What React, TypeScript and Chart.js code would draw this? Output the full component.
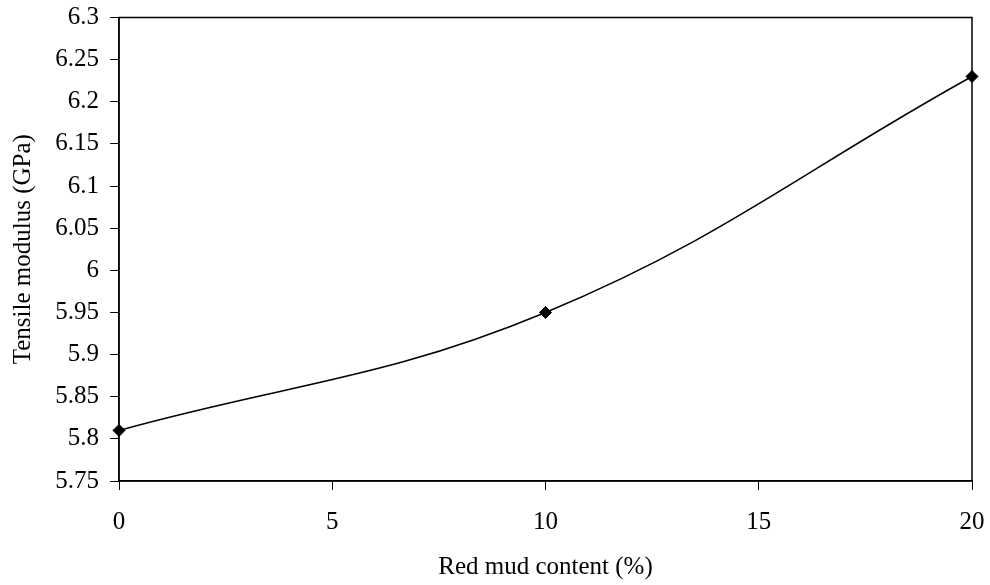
import React, { useEffect, useRef } from "react";
import { Chart, registerables } from "chart.js";

Chart.register(...registerables);

const redMudContent = [0, 10, 20];
const tensileModulus = [5.81, 5.95, 6.23];
const xTicks = [0, 5, 10, 15, 20];

const FONT = "'Liberation Serif', 'Times New Roman', serif";
const FS = 25;

const boxPlugin = {
  id: "plotBox",
  beforeDatasetsDraw(chart: any) {
    const { ctx, chartArea } = chart;
    ctx.save();
    ctx.strokeStyle = "#000";
    ctx.lineWidth = 1.5;
    ctx.strokeRect(chartArea.left, chartArea.top, chartArea.right - chartArea.left, chartArea.bottom - chartArea.top);
    ctx.restore();
  },
};

export default function App() {
  const ref = useRef<HTMLCanvasElement | null>(null);
  useEffect(() => {
    document.body.style.margin = "0";
    const canvas = ref.current!;
    const chart = new Chart(canvas, {
      type: "line",
      data: {
        datasets: [
          {
            data: redMudContent.map((x, i) => ({ x, y: tensileModulus[i] })),
            borderColor: "#000",
            backgroundColor: "#000",
            borderWidth: 1.5,
            tension: 0.4,
            clip: false,
            pointStyle: "rectRot",
            pointRadius: 6,
            pointBorderWidth: 1,
            pointBackgroundColor: "#000",
            pointBorderColor: "#000",
          },
        ],
      },
      options: {
        animation: false,
        responsive: false,
        maintainAspectRatio: false,
        layout: { padding: { top: 17.5, right: 18, left: 0, bottom: 0 } },
        plugins: { legend: { display: false }, tooltip: { enabled: false } },
        scales: {
          x: {
            type: "linear",
            min: 0,
            max: 20,
            afterBuildTicks: (s: any) => {
              s.ticks = xTicks.map((v) => ({ value: v }));
            },
            afterFit: (s: any) => {
              s.height = 104;
              s.paddingLeft = 0;
              s.paddingRight = 0;
            },
            grid: { drawOnChartArea: false, drawTicks: true, tickLength: 9, color: "#000", lineWidth: 1 },
            border: { display: true, color: "#000", width: 1.5 },
            ticks: { color: "#000", font: { family: FONT, size: FS }, padding: 17, maxRotation: 0 },
            title: {
              display: true,
              text: "Red mud content (%)",
              color: "#000",
              font: { family: FONT, size: FS },
              padding: { top: 0, bottom: 3 },
            },
          },
          y: {
            type: "linear",
            min: 5.75,
            max: 6.3,
            ticks: {
              stepSize: 0.05,
              color: "#000",
              font: { family: FONT, size: FS },
              padding: 11,
              callback: (v: any) => String(Math.round(Number(v) * 100) / 100),
            },
            afterFit: (s: any) => {
              s.width = 119;
              s.paddingTop = 0;
              s.paddingBottom = 0;
            },
            grid: { drawOnChartArea: false, drawTicks: true, tickLength: 9, color: "#000", lineWidth: 1 },
            border: { display: true, color: "#000", width: 1.5 },
            title: {
              display: true,
              text: "Tensile modulus (GPa)",
              color: "#000",
              font: { family: FONT, size: FS },
              padding: { top: 8, bottom: 0 },
            },
          },
        },
      },
      plugins: [boxPlugin],
    });
    return () => chart.destroy();
  }, []);
  return (
    <div style={{ width: 990, height: 585, background: "#fff" }}>
      <canvas ref={ref} width={990} height={585} style={{ display: "block" }} />
    </div>
  );
}
